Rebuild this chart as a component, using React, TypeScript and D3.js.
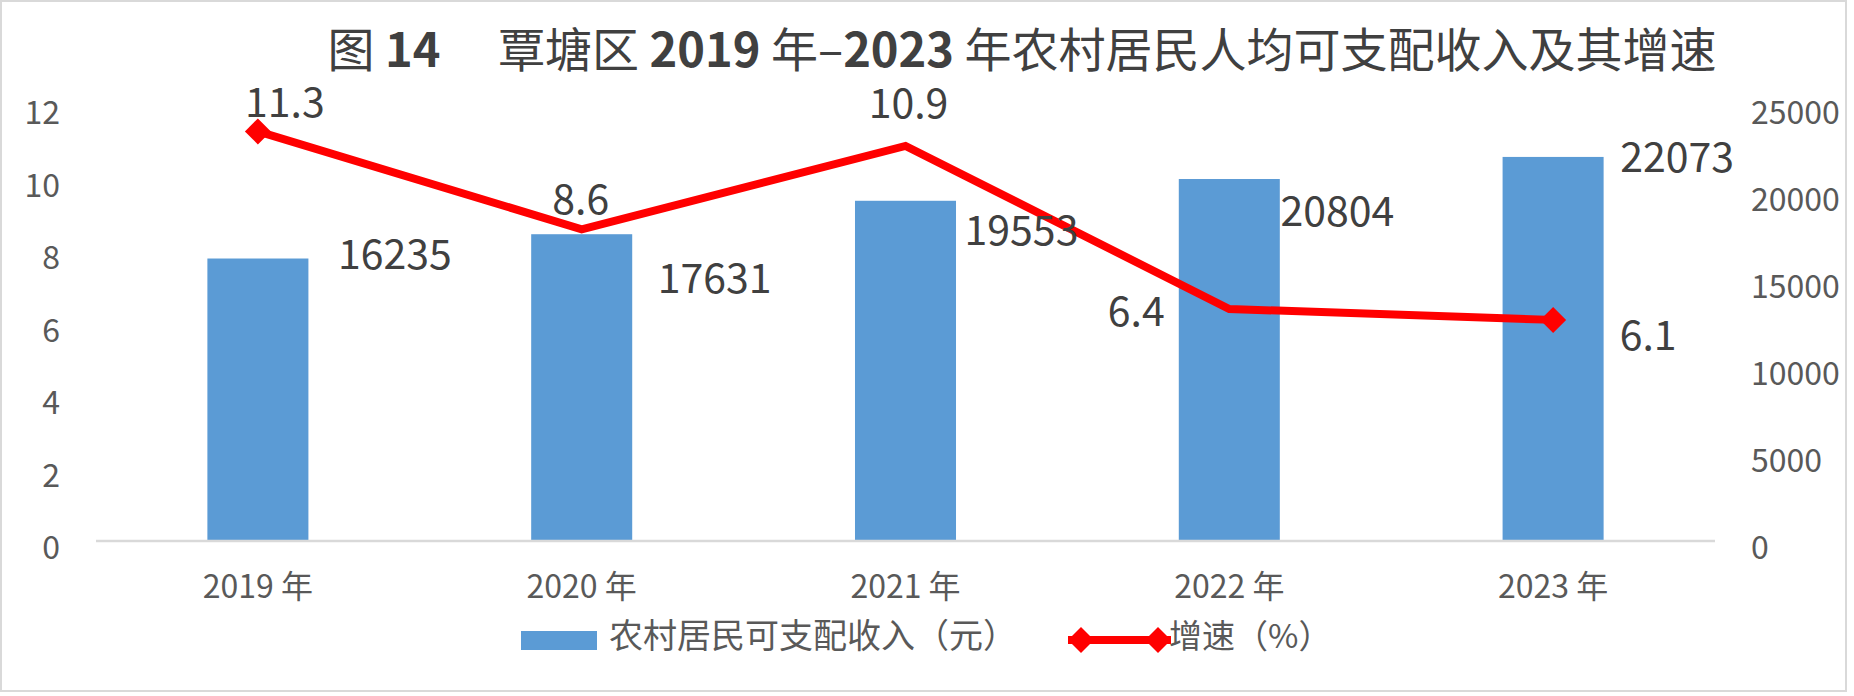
import * as d3 from "d3";

// 覃塘区 2019-2023 年农村居民人均可支配收入及其增速
const years = ["2019 年", "2020 年", "2021 年", "2022 年", "2023 年"];
const income = [16235, 17631, 19553, 20804, 22073];
const growth = [11.3, 8.6, 10.9, 6.4, 6.1];
const leftTicks = [0, 2, 4, 6, 8, 10, 12];
const rightTicks = [0, 5000, 10000, 15000, 20000, 25000];

// hand-placed data label nudges (label centre relative to bar top / point)
const barLabelNudge = [
  [137, -4],
  [133, 45],
  [116, 30],
  [108, 33],
  [124, 1],
];
const lineLabelNudge = [
  [27, -28],
  [-1, -29],
  [3, -42],
  [-93, 3],
  [95, 16],
];

const W = 1854;
const H = 696;
const FONT = "'Noto Sans CJK SC', 'Noto Sans', sans-serif";
const BAR = "#5B9BD5";
const RED = "#FF0000";
const AXIS_TEXT = "#595959";
const LABEL_TEXT = "#404040";

const diamond = (cx: number, cy: number, r: number) =>
  `M${cx},${cy - r}L${cx + r},${cy}L${cx},${cy + r}L${cx - r},${cy}Z`;

export default function App() {
  const plot = { left: 96, right: 1715, top: 106, bottom: 541 };

  const x = d3
    .scaleBand<string>()
    .domain(years)
    .range([plot.left, plot.right]);
  const yL = d3.scaleLinear().domain([0, 12]).range([plot.bottom, plot.top]);
  const yR = d3
    .scaleLinear()
    .domain([0, 25000])
    .range([plot.bottom, plot.top]);

  const barW = x.step() * 0.312;
  const cx = (i: number) => (x(years[i]) ?? 0) + x.bandwidth() / 2;

  const pts = growth.map((g, i) => [cx(i), yL(g)] as [number, number]);
  const linePath = d3.line()(pts) ?? "";
  const last = pts.length - 1;

  return (
    <>
      <style>{`body{margin:0}`}</style>
      <svg
        width={W}
        height={H}
        viewBox={`0 0 ${W} ${H}`}
        style={{ display: "block", fontFamily: FONT }}
      >
        <rect
          x={1}
          y={1}
          width={1845}
          height={690}
          fill="#fff"
          stroke="#d9d9d9"
          strokeWidth={2}
        />

        {/* title */}
        <text
          x={1022}
          y={67}
          textAnchor="middle"
          fontSize={47}
          fill={LABEL_TEXT}
        >
          <tspan>图 </tspan>
          <tspan fontWeight="bold">14</tspan>
          <tspan>{"　  "}覃塘区 </tspan>
          <tspan fontWeight="bold">2019</tspan>
          <tspan> 年–</tspan>
          <tspan fontWeight="bold">2023</tspan>
          <tspan> 年农村居民人均可支配收入及其增速</tspan>
        </text>

        {/* bars */}
        {income.map((v, i) => (
          <rect
            key={years[i]}
            x={cx(i) - barW / 2}
            y={yR(v)}
            width={barW}
            height={plot.bottom - yR(v)}
            fill={BAR}
          />
        ))}

        {/* category axis */}
        <line
          x1={plot.left}
          x2={plot.right}
          y1={plot.bottom}
          y2={plot.bottom}
          stroke="#d9d9d9"
          strokeWidth={2.5}
        />
        {years.map((yr, i) => (
          <text
            key={yr}
            x={cx(i)}
            y={598}
            textAnchor="middle"
            fontSize={32}
            fill={AXIS_TEXT}
          >
            {yr}
          </text>
        ))}

        {/* left axis */}
        {leftTicks.map((t) => (
          <text
            key={t}
            x={60}
            y={yL(t) + 7 + 11}
            textAnchor="end"
            fontSize={32}
            fill={AXIS_TEXT}
          >
            {t}
          </text>
        ))}

        {/* right axis */}
        {rightTicks.map((t) => (
          <text
            key={t}
            x={1751}
            y={yR(t) + 7 + 11}
            textAnchor="start"
            fontSize={32}
            fill={AXIS_TEXT}
          >
            {t}
          </text>
        ))}

        {/* growth line */}
        <path
          d={linePath}
          fill="none"
          stroke={RED}
          strokeWidth={8}
          strokeLinejoin="miter"
        />
        {[0, last].map((i) => (
          <path key={i} d={diamond(pts[i][0], pts[i][1], 13)} fill={RED} />
        ))}

        {/* bar labels */}
        {income.map((v, i) => (
          <text
            key={`b${i}`}
            x={cx(i) + barLabelNudge[i][0]}
            y={yR(v) + barLabelNudge[i][1] + 14}
            textAnchor="middle"
            fontSize={41}
            fill={LABEL_TEXT}
          >
            {v}
          </text>
        ))}

        {/* line labels */}
        {growth.map((g, i) => (
          <text
            key={`l${i}`}
            x={pts[i][0] + lineLabelNudge[i][0]}
            y={pts[i][1] + lineLabelNudge[i][1] + 14}
            textAnchor="middle"
            fontSize={41}
            fill={LABEL_TEXT}
          >
            {g.toFixed(1)}
          </text>
        ))}

        {/* legend */}
        <rect x={521} y={631} width={76} height={19} fill={BAR} />
        <text x={609} y={648} fontSize={34} fill={AXIS_TEXT}>
          农村居民可支配收入（元）
        </text>
        <line
          x1={1068}
          x2={1171}
          y1={640}
          y2={640}
          stroke={RED}
          strokeWidth={8}
        />
        <path d={diamond(1081, 640, 13)} fill={RED} />
        <path d={diamond(1158, 640, 13)} fill={RED} />
        <text x={1169} y={648} fontSize={33} fill={AXIS_TEXT}>
          增速（%）
        </text>
      </svg>
    </>
  );
}
